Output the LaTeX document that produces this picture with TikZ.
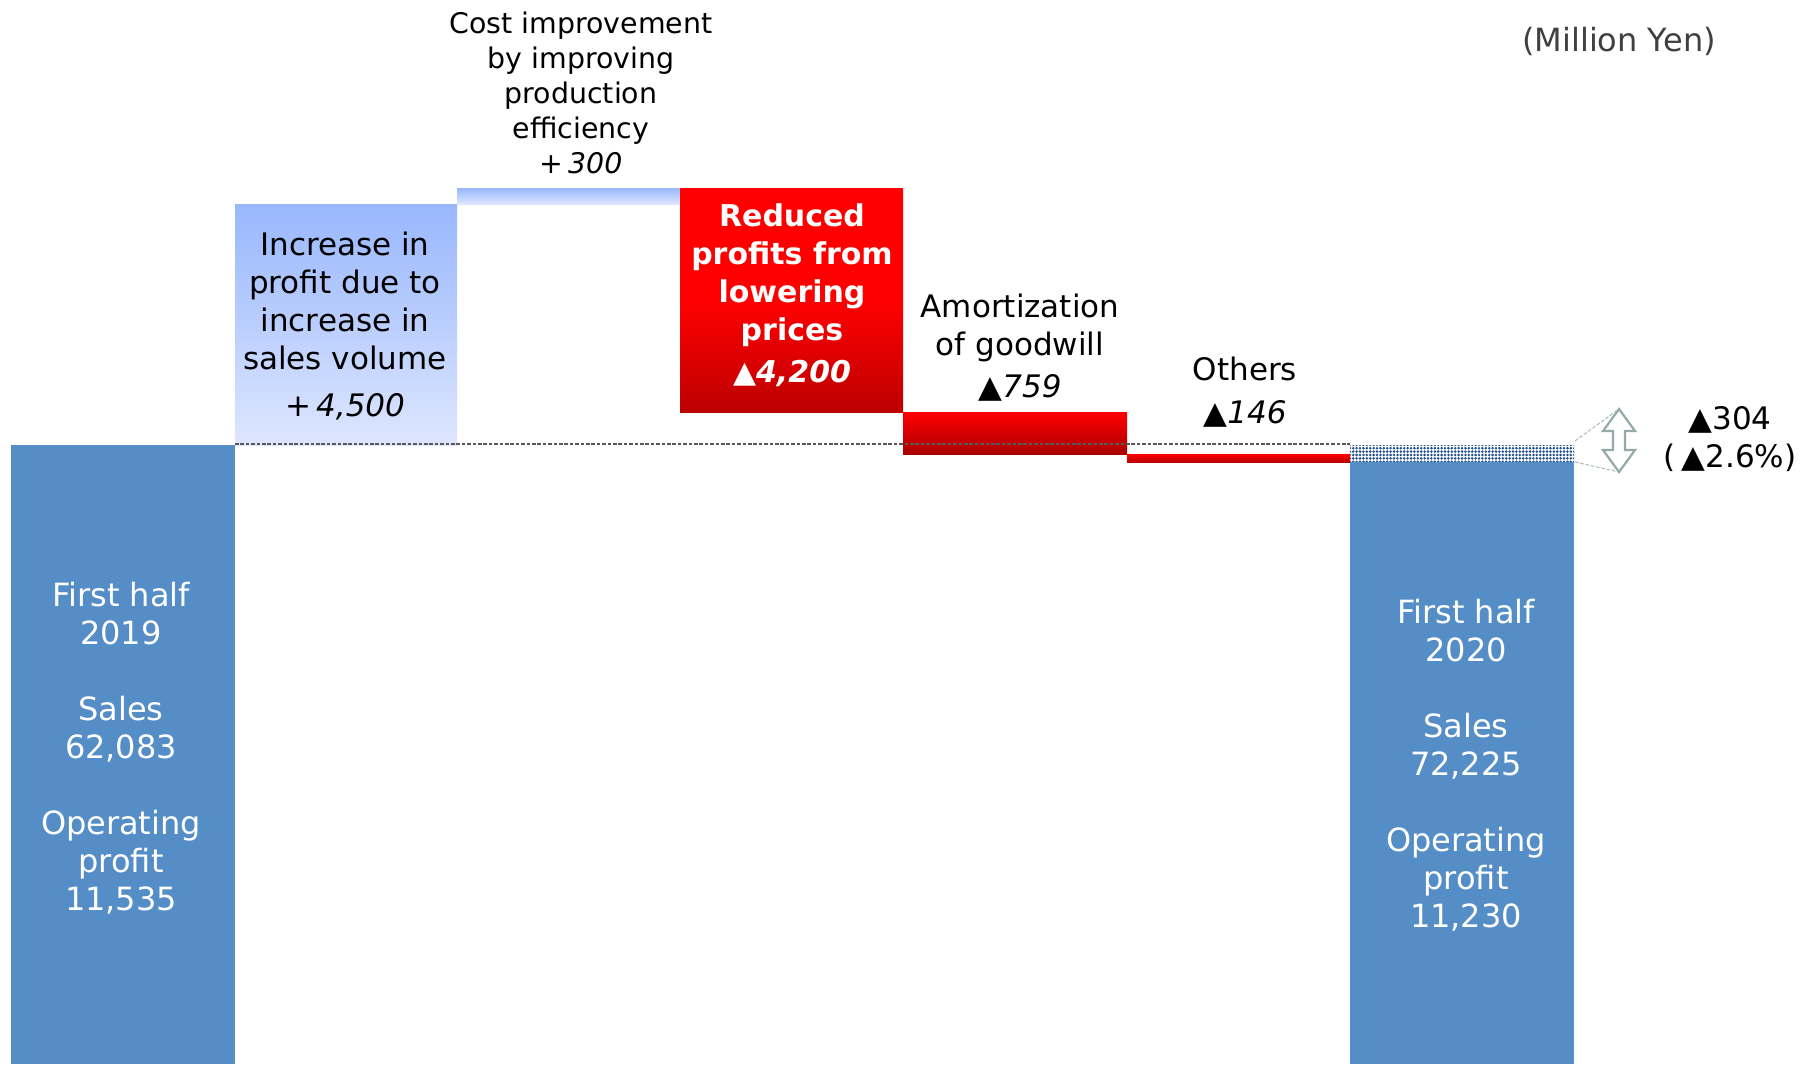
\documentclass[tikz,border=0pt]{standalone}
\usepackage{fontspec}
\setmainfont{DejaVu Sans}
\usepackage[]{xcolor}
\usetikzlibrary{patterns.meta}
\definecolor{barblue}{HTML}{558DC7}
\definecolor{dotblue}{HTML}{1F4E8C}
\definecolor{gainlight}{HTML}{DDE6FE}
\definecolor{gaindark}{HTML}{98B7FD}
\definecolor{lossdark}{HTML}{BC0000}
\definecolor{arrowgray}{HTML}{93A9AA}
\tikzset{lbl/.style = {align=center, inner sep=0, font=\fontsize{15.5}{19}\selectfont}}
\tikzset{total/.style = {lbl, white, font=\fontsize{16}{19}\selectfont}}
\tikzset{gain/.style = {top color=gaindark, bottom color=gainlight}}
\tikzset{loss/.style = {top color=red, bottom color=lossdark, middle color=red}}

\begin{document}
    \begin{tikzpicture}[x=0.5pt,y=-0.5pt]
        \useasboundingbox (0,0) rectangle (1810,1067);
        \fill [barblue] (11,445) rectangle (235,1064);
        \shade [gain] (235,204) rectangle (457,445);
        \shade [gain] (457,188) rectangle (680,204);
        \shade [loss] (680,188) rectangle (903,412);
        \shade [top color=red, bottom color=lossdark!90!black] (903,412) rectangle (1127,454);
        \shade [top color=red, bottom color=lossdark] (1127,454) rectangle (1350,462);
        \fill [pattern={Dots[distance=1.7pt,radius=0.7pt]}, pattern color=dotblue] (1350,445) rectangle (1574,462);
        \fill [barblue] (1350,462) rectangle (1574,1064);
        \coordinate (base) at (235,444);
        \coordinate (base end) at (1350,444);
        \draw [black!65, line width=0.7pt, dash pattern=on 1.8pt off 0.9pt] (base) -- (base end);
        \coordinate (gap top) at (1575,441);
        \coordinate (gap bottom) at (1575,462);
        \coordinate (tip up) at (1619,409);
        \coordinate (tip down) at (1619,472);
        \draw [arrowgray, line width=1.1pt, fill=white, line join=miter] (tip up) -- (1635,431) -- (1625,431) -- (1625,450) -- (1635,450) -- (tip down)
            -- (1603,450) -- (1613,450) -- (1613,431) -- (1603,431) -- cycle;
        \draw [arrowgray!80, line width=0.5pt, dash pattern=on 1.8pt off 0.9pt] (gap top) -- (tip up) (gap bottom) -- (tip down);
        \node [total] (first2019) at (121,748) {First half\\2019\\[19pt]Sales\\62,083\\[19pt]Operating\\profit\\11,535};
        \node [lbl] (volume) at (345,326) {Increase in\\profit due to\\increase in\\sales volume\\[4.5pt]+\,\textit{4,500}};
        \node [lbl, font=\fontsize{14.2}{17.5}\selectfont] (cost) at (581,93) {Cost improvement\\by improving\\production\\efficiency\\+\,\textit{300}};
        \node [lbl, white, font=\fontsize{15}{19}\selectfont\bfseries] (prices) at (792,295) {Reduced\\profits from\\lowering\\prices\\[2pt]▲\textit{4,200}};
        \node [lbl] (goodwill) at (1020,348) {Amortization\\of goodwill\\[2pt]▲\textit{759}};
        \node [lbl] (others) at (1245,392) {Others\\[2.5pt]▲\textit{146}};
        \node [total] (first2020) at (1466,765) {First half\\2020\\[19pt]Sales\\72,225\\[19pt]Operating\\profit\\11,230};
        \node [lbl] (diff) at (1730,439) {▲304\\(\kern3pt▲2.6\%)};
        \node [lbl, black!75, font=\fontsize{16}{19}\selectfont] (unit) at (1619,41) {(Million Yen)};
    \end{tikzpicture}
\end{document}
